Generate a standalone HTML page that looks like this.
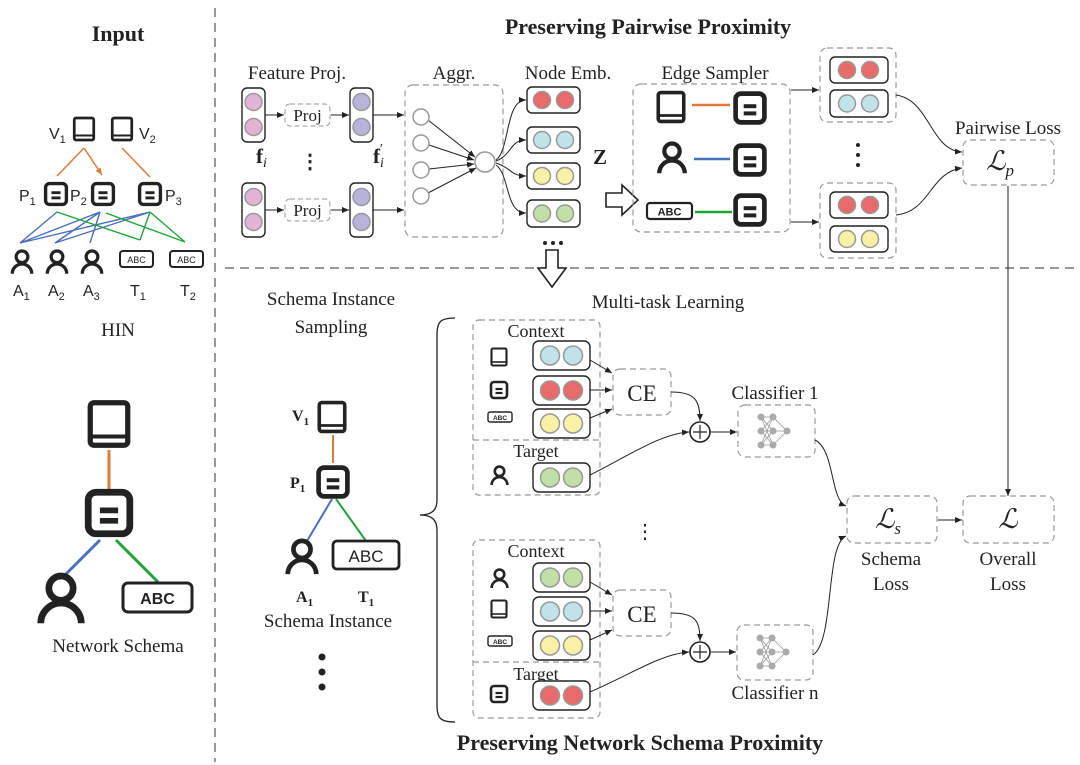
<!DOCTYPE html>
<html><head><meta charset="utf-8"><style>
html,body{margin:0;padding:0;background:#fff}
svg{display:block}
text{font-family:"Liberation Serif",serif;fill:#222}
.s{font-family:"Liberation Sans",sans-serif}
</style></head><body>
<svg width="1080" height="765" viewBox="0 0 1080 765" xmlns="http://www.w3.org/2000/svg">
<defs>
<marker id="ar" markerWidth="8" markerHeight="8" refX="7" refY="4" orient="auto" markerUnits="userSpaceOnUse"><path d="M0,1 L7,4 L0,7 z" fill="#222"/></marker>
<marker id="aro" markerWidth="8" markerHeight="8" refX="7" refY="4" orient="auto" markerUnits="userSpaceOnUse"><path d="M0,1 L7,4 L0,7 z" fill="#e07b39"/></marker>
<symbol id="book" viewBox="0 0 20 20"><rect x="2.5" y="1.5" width="15" height="17" rx="1.5" fill="#fff" stroke="#222" stroke-width="2.1"/><line x1="2.5" y1="15" x2="17.5" y2="15" stroke="#222" stroke-width="1.6"/></symbol>
<symbol id="paper" viewBox="0 0 20 20"><rect x="2" y="2" width="16" height="16" rx="3" fill="#fff" stroke="#222" stroke-width="2.6"/><line x1="6.5" y1="9" x2="13.5" y2="9" stroke="#222" stroke-width="2.2"/><line x1="6.5" y1="13" x2="13.5" y2="13" stroke="#222" stroke-width="2.2"/></symbol>
<symbol id="person" viewBox="0 0 20 20"><circle cx="10" cy="6" r="4.5" fill="none" stroke="#222" stroke-width="2.5"/><path d="M2.5 19 A7.5 7.5 0 0 1 17.5 19" fill="none" stroke="#222" stroke-width="2.5"/></symbol>
<symbol id="nn" viewBox="0 0 40 40"><g stroke="#999" stroke-width="0.8"><path d="M6 6L18 6M6 6L18 20M6 6L18 34M6 20L18 6M6 20L18 20M6 20L18 34M6 34L18 6M6 34L18 20M6 34L18 34M18 6L32 20M18 20L32 20M18 34L32 20"/></g><g fill="#aaa"><circle cx="6" cy="6" r="3.5"/><circle cx="6" cy="20" r="3.5"/><circle cx="6" cy="34" r="3.5"/><circle cx="18" cy="6" r="3.5"/><circle cx="18" cy="20" r="3.5"/><circle cx="18" cy="34" r="3.5"/><circle cx="32" cy="20" r="3.5"/></g></symbol>
</defs>

<line x1="215" y1="8" x2="215" y2="762" stroke="#777" stroke-width="1.5" stroke-dasharray="9,6"/>
<line x1="225" y1="268" x2="1078" y2="268" stroke="#777" stroke-width="1.5" stroke-dasharray="9,6"/>

<text x="118" y="41" font-size="22" font-weight="bold" text-anchor="middle">Input</text>
<text x="648" y="34" font-size="22" font-weight="bold" text-anchor="middle">Preserving Pairwise Proximity</text>
<text x="640" y="750" font-size="22" font-weight="bold" text-anchor="middle">Preserving Network Schema Proximity</text>

<g class="s">
<text x="49" y="139" font-size="16" class="s">V<tspan font-size="11" dy="4">1</tspan></text>
<use href="#book" x="71" y="114" width="26" height="30"/>
<use href="#book" x="109" y="114" width="26" height="30"/>
<text x="139" y="139" font-size="16" class="s">V<tspan font-size="11" dy="4">2</tspan></text>
<line x1="84" y1="148" x2="57" y2="176" stroke="#e07b39" stroke-width="1.5"/>
<line x1="84" y1="148" x2="102" y2="175" stroke="#e07b39" stroke-width="1.5" marker-end="url(#aro)"/>
<line x1="122" y1="148" x2="150" y2="177" stroke="#e07b39" stroke-width="1.5"/>
<text x="19" y="201" font-size="16" class="s">P<tspan font-size="11" dy="4">1</tspan></text>
<use href="#paper" x="43" y="181" width="26" height="26"/>
<text x="70" y="201" font-size="16" class="s">P<tspan font-size="11" dy="4">2</tspan></text>
<use href="#paper" x="90" y="181" width="26" height="26"/>
<use href="#paper" x="137" y="181" width="26" height="26"/>
<text x="165" y="201" font-size="16" class="s">P<tspan font-size="11" dy="4">3</tspan></text>
<g stroke="#4a6fbf" stroke-width="1.4" fill="none">
<path d="M20 243L57 212M20 243L100 212M20 243L150 212M55 243L100 212M55 243L150 212M90 243L100 212"/>
</g>
<g stroke="#22a33a" stroke-width="1.4" fill="none">
<path d="M57 212L140 240M150 212L140 240M150 212L185 242M185 242L106 213"/>
</g>
<use href="#person" x="9" y="249" width="26" height="26"/>
<use href="#person" x="44" y="249" width="26" height="26"/>
<use href="#person" x="79" y="249" width="26" height="26"/>
<rect x="120" y="251" width="33" height="16" rx="3" fill="#fff" stroke="#222" stroke-width="2"/>
<text x="136.5" y="263" font-size="9" text-anchor="middle" class="s">ABC</text>
<rect x="170" y="251" width="33" height="16" rx="3" fill="#fff" stroke="#222" stroke-width="2"/>
<text x="186.5" y="263" font-size="9" text-anchor="middle" class="s">ABC</text>
<text x="13" y="296" font-size="16" class="s">A<tspan font-size="11" dy="4">1</tspan></text>
<text x="48" y="296" font-size="16" class="s">A<tspan font-size="11" dy="4">2</tspan></text>
<text x="83" y="296" font-size="16" class="s">A<tspan font-size="11" dy="4">3</tspan></text>
<text x="130" y="296" font-size="16" class="s">T<tspan font-size="11" dy="4">1</tspan></text>
<text x="180" y="296" font-size="16" class="s">T<tspan font-size="11" dy="4">2</tspan></text>
</g>
<text x="118" y="336" font-size="19" text-anchor="middle">HIN</text>

<use href="#book" x="84" y="396" width="50" height="56"/>
<line x1="109" y1="450" x2="109" y2="490" stroke="#e07b39" stroke-width="3"/>
<use href="#paper" x="83" y="487" width="52" height="52"/>
<line x1="100" y1="540" x2="62" y2="578" stroke="#4a6fbf" stroke-width="3"/>
<line x1="116" y1="540" x2="158" y2="582" stroke="#22a33a" stroke-width="3"/>
<use href="#person" x="34" y="572" width="54" height="54"/>
<rect x="123" y="583" width="69" height="29" rx="5" fill="#fff" stroke="#222" stroke-width="3"/>
<text x="157.5" y="604" font-size="16" font-weight="bold" text-anchor="middle" class="s">ABC</text>
<text x="118" y="652" font-size="19" text-anchor="middle">Network Schema</text>

<text x="297" y="79" font-size="19" text-anchor="middle">Feature Proj.</text>
<g stroke="#222" stroke-width="1.4">
<rect x="242" y="88" width="23" height="54" rx="5" fill="#fff"/>
<rect x="242" y="183" width="23" height="54" rx="5" fill="#fff"/>
<rect x="350" y="88" width="23" height="54" rx="5" fill="#fff"/>
<rect x="350" y="183" width="23" height="54" rx="5" fill="#fff"/>
</g>
<g stroke="#999" stroke-width="1.5">
<circle cx="253.5" cy="102" r="8.5" fill="#e3b3d5"/><circle cx="253.5" cy="127" r="8.5" fill="#e3b3d5"/>
<circle cx="253.5" cy="197" r="8.5" fill="#e3b3d5"/><circle cx="253.5" cy="222" r="8.5" fill="#e3b3d5"/>
<circle cx="361.5" cy="102" r="8.5" fill="#b7b3da"/><circle cx="361.5" cy="127" r="8.5" fill="#b7b3da"/>
<circle cx="361.5" cy="197" r="8.5" fill="#b7b3da"/><circle cx="361.5" cy="222" r="8.5" fill="#b7b3da"/>
</g>
<g fill="none" stroke="#999" stroke-dasharray="5,3" stroke-width="1">
<rect x="285" y="104" width="45" height="22" rx="5"/><rect x="285" y="199" width="45" height="22" rx="5"/>
</g>
<text x="307.5" y="121" font-size="17" text-anchor="middle">Proj</text>
<text x="307.5" y="216" font-size="17" text-anchor="middle">Proj</text>
<g stroke="#222" stroke-width="1.1" marker-end="url(#ar)">
<line x1="265" y1="115" x2="284" y2="115"/><line x1="331" y1="115" x2="349" y2="115"/>
<line x1="265" y1="210" x2="284" y2="210"/><line x1="331" y1="210" x2="349" y2="210"/>
<line x1="373" y1="115" x2="404" y2="115"/><line x1="373" y1="210" x2="404" y2="210"/>
</g>
<text x="256" y="163" font-size="21" font-weight="bold">f<tspan font-size="14" font-style="italic" font-weight="normal" dy="4">i</tspan></text>
<text x="310" y="168" font-size="20" font-weight="bold" text-anchor="middle">⋮</text>
<text x="373" y="163" font-size="21" font-weight="bold">f<tspan font-size="14" font-style="italic" font-weight="normal" dy="4">i</tspan><tspan font-size="14" dy="-14" dx="-4" font-weight="normal">′</tspan></text>

<text x="454" y="79" font-size="19" text-anchor="middle">Aggr.</text>
<rect x="405" y="85" width="98" height="152" rx="8" fill="none" stroke="#999" stroke-dasharray="6,4" stroke-width="1.2"/>
<g stroke="#222" stroke-width="1" marker-end="url(#ar)">
<line x1="428" y1="120" x2="475" y2="157"/><line x1="429" y1="145" x2="474" y2="160"/>
<line x1="429" y1="169" x2="474" y2="164"/><line x1="428" y1="193" x2="476" y2="168"/>
</g>
<g fill="#fff" stroke="#999" stroke-width="1.5">
<circle cx="421" cy="117" r="8"/><circle cx="421" cy="143" r="8"/><circle cx="421" cy="170" r="8"/><circle cx="421" cy="196" r="8"/><circle cx="485" cy="162" r="10"/>
</g>

<text x="568" y="79" font-size="19" text-anchor="middle">Node Emb.</text>
<g fill="none" stroke="#222" stroke-width="1" marker-end="url(#ar)">
<path d="M496 160 C510 150,505 100,526 100"/>
<path d="M496 161 C512 155,510 140,526 140"/>
<path d="M496 163 C512 168,510 176,526 176"/>
<path d="M496 165 C510 175,505 213,526 213"/>
</g>
<g stroke="#222" stroke-width="1.4" fill="#fff">
<rect x="527" y="87" width="53" height="26" rx="5"/><rect x="527" y="127" width="53" height="26" rx="5"/>
<rect x="527" y="163" width="53" height="26" rx="5"/><rect x="527" y="200" width="53" height="27" rx="5"/>
</g>
<g stroke="#999" stroke-width="1.5">
<circle cx="542" cy="100" r="8.5" fill="#e86a6a"/><circle cx="565" cy="100" r="8.5" fill="#e86a6a"/>
<circle cx="542" cy="140" r="8.5" fill="#bfe3e8"/><circle cx="565" cy="140" r="8.5" fill="#bfe3e8"/>
<circle cx="542" cy="176" r="8.5" fill="#f8f1a6"/><circle cx="565" cy="176" r="8.5" fill="#f8f1a6"/>
<circle cx="542" cy="213.5" r="8.5" fill="#c2dfa6"/><circle cx="565" cy="213.5" r="8.5" fill="#c2dfa6"/>
</g>
<g fill="#222"><circle cx="545" cy="243" r="2"/><circle cx="553" cy="243" r="2"/><circle cx="561" cy="243" r="2"/></g>
<text x="593" y="164" font-size="21" font-weight="bold">Z</text>
<path d="M606 193 H622 V185 L638 200 L622 215 V207 H606 Z" fill="#fff" stroke="#222" stroke-width="1.6"/>
<path d="M546 250 H558 V268 H566 L552 287 L538 268 H546 Z" fill="#fff" stroke="#222" stroke-width="1.6"/>

<text x="715" y="79" font-size="19" text-anchor="middle">Edge Sampler</text>
<rect x="633" y="84" width="157" height="148" rx="8" fill="none" stroke="#999" stroke-dasharray="6,4" stroke-width="1.2"/>
<use href="#book" x="654" y="88" width="34" height="38"/>
<line x1="692" y1="105" x2="730" y2="105" stroke="#e07b39" stroke-width="2.5"/>
<use href="#paper" x="732" y="90" width="36" height="36"/>
<use href="#person" x="655" y="141" width="34" height="34"/>
<line x1="694" y1="159" x2="730" y2="159" stroke="#4a6fbf" stroke-width="2.5"/>
<use href="#paper" x="732" y="142" width="36" height="36"/>
<rect x="647" y="203" width="45" height="16" rx="3" fill="#fff" stroke="#222" stroke-width="2.2"/>
<text x="669.5" y="215.5" font-size="11" font-weight="bold" text-anchor="middle" class="s">ABC</text>
<line x1="695" y1="212" x2="732" y2="212" stroke="#22a33a" stroke-width="2.5"/>
<use href="#paper" x="732" y="192" width="36" height="36"/>
<g stroke="#222" stroke-width="1" marker-end="url(#ar)">
<line x1="791" y1="90" x2="819" y2="90"/><line x1="791" y1="222" x2="819" y2="222"/>
</g>
<g fill="none" stroke="#999" stroke-dasharray="6,4" stroke-width="1.2">
<rect x="820" y="48" width="76" height="74" rx="7"/><rect x="820" y="183" width="76" height="75" rx="7"/>
</g>
<g stroke="#222" stroke-width="1.4" fill="#fff">
<rect x="830" y="57" width="58" height="26" rx="5"/><rect x="830" y="90" width="58" height="27" rx="5"/>
<rect x="830" y="192" width="58" height="26" rx="5"/><rect x="830" y="226" width="58" height="26" rx="5"/>
</g>
<g stroke="#999" stroke-width="1.5">
<circle cx="847" cy="70" r="8.5" fill="#e86a6a"/><circle cx="870" cy="70" r="8.5" fill="#e86a6a"/>
<circle cx="847" cy="103.5" r="8.5" fill="#bfe3e8"/><circle cx="870" cy="103.5" r="8.5" fill="#bfe3e8"/>
<circle cx="847" cy="205" r="8.5" fill="#e86a6a"/><circle cx="870" cy="205" r="8.5" fill="#e86a6a"/>
<circle cx="847" cy="239" r="8.5" fill="#f8f1a6"/><circle cx="870" cy="239" r="8.5" fill="#f8f1a6"/>
</g>
<g fill="#222"><circle cx="858" cy="145" r="2"/><circle cx="858" cy="155" r="2"/><circle cx="858" cy="165" r="2"/></g>
<text x="1008" y="134" font-size="19" text-anchor="middle">Pairwise Loss</text>
<rect x="963" y="140" width="91" height="45" rx="7" fill="none" stroke="#999" stroke-dasharray="6,4" stroke-width="1.2"/>
<text x="1000" y="170" font-size="27" font-style="italic" text-anchor="middle">ℒ<tspan font-size="17" dy="6">p</tspan></text>
<g fill="none" stroke="#222" stroke-width="1" marker-end="url(#ar)">
<path d="M896 95 C930 100,930 150,962 152"/>
<path d="M896 215 C930 212,930 172,962 168"/>
<path d="M1008 186 V496"/>
</g>

<text x="331" y="305" font-size="19" text-anchor="middle">Schema Instance</text>
<text x="331" y="333" font-size="19" text-anchor="middle">Sampling</text>
<text x="292" y="421" font-size="16" font-weight="bold">V<tspan font-size="11" dy="4">1</tspan></text>
<use href="#book" x="315" y="399" width="34" height="36"/>
<line x1="333" y1="435" x2="333" y2="463" stroke="#e07b39" stroke-width="2"/>
<text x="290" y="488" font-size="16" font-weight="bold">P<tspan font-size="11" dy="4">1</tspan></text>
<use href="#paper" x="315" y="464" width="36" height="36"/>
<line x1="332" y1="499" x2="307" y2="541" stroke="#4a6fbf" stroke-width="2"/>
<line x1="336" y1="499" x2="366" y2="541" stroke="#22a33a" stroke-width="2"/>
<use href="#person" x="283" y="538" width="38" height="38"/>
<rect x="333" y="541" width="66" height="28" rx="4" fill="#fff" stroke="#222" stroke-width="2.8"/>
<text x="366" y="562" font-size="17" text-anchor="middle" class="s">ABC</text>
<text x="296" y="602" font-size="16" font-weight="bold">A<tspan font-size="11" dy="4">1</tspan></text>
<text x="358" y="602" font-size="16" font-weight="bold">T<tspan font-size="11" dy="4">1</tspan></text>
<text x="328" y="627" font-size="19" text-anchor="middle">Schema Instance</text>
<g fill="#222"><circle cx="322" cy="657" r="3.5"/><circle cx="322" cy="672" r="3.5"/><circle cx="322" cy="687" r="3.5"/></g>
<path d="M455 318 C440 318,437 322,437 335 V500 C437 510,432 515,420 515 C432 515,437 520,437 530 V705 C437 718,440 722,455 722" fill="none" stroke="#222" stroke-width="1.3"/>

<text x="668" y="308" font-size="19" text-anchor="middle">Multi-task Learning</text>

<g fill="none" stroke="#999" stroke-dasharray="6,4" stroke-width="1.2">
<rect x="473" y="320" width="127" height="175" rx="6"/><line x1="473" y1="440" x2="600" y2="440"/>
<rect x="473" y="540" width="127" height="178" rx="6"/><line x1="473" y1="662" x2="600" y2="662"/>
<rect x="613" y="369" width="58" height="46" rx="7"/><rect x="613" y="590" width="58" height="46" rx="7"/>
<rect x="738" y="405" width="77" height="52" rx="7"/><rect x="737" y="625" width="76" height="55" rx="7"/>
<rect x="847" y="496" width="90" height="47" rx="7"/><rect x="963" y="496" width="91" height="47" rx="7"/>
</g>
<text x="536" y="337" font-size="18" text-anchor="middle">Context</text>
<text x="536" y="457" font-size="18" text-anchor="middle">Target</text>
<use href="#book" x="489" y="345" width="20" height="24"/>
<use href="#paper" x="489" y="379" width="20" height="22"/>
<rect x="488" y="412" width="24" height="10" rx="2" fill="#fff" stroke="#222" stroke-width="1.4"/>
<text x="500" y="420" font-size="6.5" font-weight="bold" text-anchor="middle" class="s">ABC</text>
<use href="#person" x="489" y="465" width="21" height="21"/>
<text x="536" y="557" font-size="18" text-anchor="middle">Context</text>
<text x="536" y="680" font-size="18" text-anchor="middle">Target</text>
<use href="#person" x="489" y="568" width="21" height="21"/>
<use href="#book" x="489" y="597" width="20" height="24"/>
<rect x="488" y="636" width="24" height="10" rx="2" fill="#fff" stroke="#222" stroke-width="1.4"/>
<text x="500" y="644" font-size="6.5" font-weight="bold" text-anchor="middle" class="s">ABC</text>
<use href="#paper" x="489" y="683" width="20" height="22"/>

<g stroke="#222" stroke-width="1.4" fill="#fff">
<rect x="533" y="341" width="57" height="29" rx="6"/><rect x="533" y="376" width="57" height="29" rx="6"/>
<rect x="533" y="409" width="57" height="29" rx="6"/><rect x="533" y="463" width="57" height="29" rx="6"/>
<rect x="533" y="563" width="57" height="29" rx="6"/><rect x="533" y="597" width="57" height="29" rx="6"/>
<rect x="533" y="631" width="57" height="29" rx="6"/><rect x="533" y="681" width="57" height="29" rx="6"/>
</g>
<g stroke="#999" stroke-width="1.5">
<circle cx="550" cy="355.5" r="9.5" fill="#bfe3e8"/><circle cx="573" cy="355.5" r="9.5" fill="#bfe3e8"/>
<circle cx="550" cy="390.5" r="9.5" fill="#e86a6a"/><circle cx="573" cy="390.5" r="9.5" fill="#e86a6a"/>
<circle cx="550" cy="423.5" r="9.5" fill="#f8f1a6"/><circle cx="573" cy="423.5" r="9.5" fill="#f8f1a6"/>
<circle cx="550" cy="477.5" r="9.5" fill="#c2dfa6"/><circle cx="573" cy="477.5" r="9.5" fill="#c2dfa6"/>
<circle cx="550" cy="577.5" r="9.5" fill="#c2dfa6"/><circle cx="573" cy="577.5" r="9.5" fill="#c2dfa6"/>
<circle cx="550" cy="611.5" r="9.5" fill="#bfe3e8"/><circle cx="573" cy="611.5" r="9.5" fill="#bfe3e8"/>
<circle cx="550" cy="645.5" r="9.5" fill="#f8f1a6"/><circle cx="573" cy="645.5" r="9.5" fill="#f8f1a6"/>
<circle cx="550" cy="695.5" r="9.5" fill="#e86a6a"/><circle cx="573" cy="695.5" r="9.5" fill="#e86a6a"/>
</g>
<text x="642" y="401" font-size="23" text-anchor="middle">CE</text>
<text x="642" y="622" font-size="23" text-anchor="middle">CE</text>
<g fill="none" stroke="#222" stroke-width="1" marker-end="url(#ar)">
<line x1="590" y1="360" x2="612" y2="373"/><line x1="590" y1="390" x2="612" y2="390"/><line x1="590" y1="418" x2="612" y2="409"/>
<line x1="590" y1="582" x2="612" y2="595"/><line x1="590" y1="611" x2="612" y2="611"/><line x1="590" y1="640" x2="612" y2="630"/>
<path d="M671 392 C695 392,700 400,700 421"/>
<path d="M590 475 C630 455,660 434,689 432"/>
<path d="M711 432 H737"/>
<path d="M671 613 C695 613,700 620,700 641"/>
<path d="M590 692 C630 675,660 654,689 652"/>
<path d="M711 652 H736"/>
<path d="M815 440 C835 450,830 500,846 506"/>
<path d="M813 655 C835 640,825 545,846 536"/>
<path d="M938 520 H962"/>
</g>
<g fill="#fff" stroke="#222" stroke-width="1.6">
<circle cx="700" cy="432" r="10"/><circle cx="700" cy="652" r="10"/>
</g>
<path d="M693 432H707M700 425V439M693 652H707M700 645V659" stroke="#222" stroke-width="1.2"/>
<use href="#nn" x="755" y="411" width="40" height="40"/>
<use href="#nn" x="754" y="632" width="40" height="40"/>
<text x="775" y="399" font-size="19" text-anchor="middle">Classifier 1</text>
<text x="775" y="699" font-size="19" text-anchor="middle">Classifier n</text>
<text x="645" y="538" font-size="20" text-anchor="middle">⋮</text>
<text x="888" y="528" font-size="27" font-style="italic" text-anchor="middle">ℒ<tspan font-size="17" dy="6">s</tspan></text>
<text x="1008" y="528" font-size="27" font-style="italic" text-anchor="middle">ℒ</text>
<text x="891" y="565" font-size="19" text-anchor="middle">Schema</text>
<text x="891" y="590" font-size="19" text-anchor="middle">Loss</text>
<text x="1008" y="565" font-size="19" text-anchor="middle">Overall</text>
<text x="1008" y="590" font-size="19" text-anchor="middle">Loss</text>
</svg>
</body></html>
